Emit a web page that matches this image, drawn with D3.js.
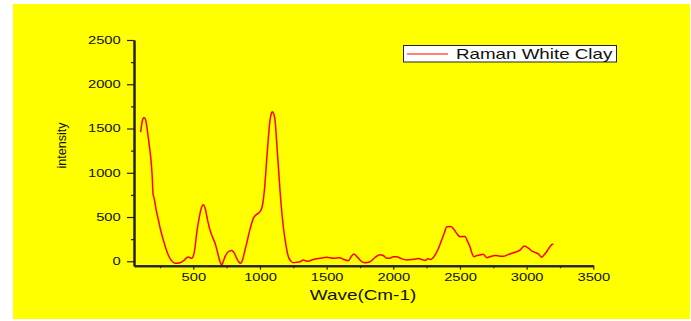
<!DOCTYPE html>
<html>
<head>
<meta charset="utf-8">
<script src="https://cdn.jsdelivr.net/npm/d3@7"></script>
<style>
  body { margin: 0; background: #fff; }
  text { font-family: 'Liberation Sans', Arial, sans-serif; fill: #111; }
</style>
</head>
<body>
<div id="chart"></div>
<script>
// Raman spectrum
const wave = [105, 118, 130, 142, 155, 168, 180, 190, 198, 205, 220, 238, 255, 275, 293, 312, 335, 363, 400, 430,
    450, 463, 478, 490, 500, 512, 525, 545, 562, 575, 590, 605, 625, 645, 663, 680, 695, 713, 725, 738,
    760, 788, 810, 825, 840, 855, 870, 885, 900, 925, 950, 975, 1000, 1015, 1025, 1040, 1050, 1062, 1075, 1085,
    1093, 1103, 1113, 1125, 1138, 1155, 1175, 1195, 1213, 1230, 1250, 1275, 1300, 1325, 1340, 1360, 1400, 1450, 1500, 1550,
    1600, 1625, 1663, 1685, 1705, 1725, 1750, 1770, 1788, 1825, 1860, 1900, 1925, 1950, 1975, 2000, 2025, 2060, 2100, 2150,
    2188, 2215, 2238, 2260, 2280, 2313, 2340, 2363, 2385, 2400, 2430, 2455, 2475, 2500, 2538, 2555, 2575, 2590, 2605, 2625,
    2645, 2675, 2700, 2730, 2763, 2800, 2825, 2860, 2888, 2920, 2950, 2983, 3013, 3040, 3063, 3090, 3113, 3130, 3150, 3175,
    3193, 3200];
const intensity = [1460, 1590, 1625, 1600, 1480, 1330, 1180, 1000, 760, 720, 590, 466, 350, 240, 150, 71, 10, -23, -16, 10,
    40, 48, 38, 34, 60, 150, 315, 500, 610, 638, 590, 480, 353, 270, 203, 110, 20, -42, 0, 52,
    105, 122, 85, 34, -5, -23, 20, 110, 203, 360, 485, 530, 560, 610, 691, 930, 1142, 1380, 1593, 1670,
    1690, 1665, 1593, 1350, 1066, 700, 390, 180, 52, 5, -16, -10, -5, 15, 5, 0, 20, 34, 45, 34,
    40, 23, 7, 55, 82, 55, 15, -10, -16, -5, 40, 75, 65, 34, 35, 52, 52, 30, 15, 22,
    30, 20, 10, 28, 20, 71, 150, 240, 330, 390, 392, 360, 315, 278, 280, 230, 165, 90, 52, 65,
    71, 80, 41, 55, 65, 58, 56, 75, 90, 105, 127, 172, 148, 115, 101, 80, 45, 70, 108, 165,
    192, 195];

const x_ticks = [500, 1000, 1500, 2000, 2500, 3000, 3500];
const x_minor = [250, 750, 1250, 1750, 2250, 2750, 3250];
const y_ticks = [0, 500, 1000, 1500, 2000, 2500];
const y_minor = [250, 750, 1250, 1750, 2250];
const series_name = 'Raman White Clay';

const data = wave.map((w, i) => [w, intensity[i]]);

const chart_width = 691;
const chart_height = 321;
const stretch = 1.4;

const svg = d3.select('#chart')
    .append('svg')
    .attr('width', chart_width)
    .attr('height', chart_height);

// yellow page
svg.append('rect')
    .attr('x', 13)
    .attr('y', 4)
    .attr('width', 677)
    .attr('height', 315)
    .attr('fill', '#ffff00');

const x_scale = d3.scaleLinear()
    .domain([55, 3500])
    .range([134, 593.3]);

const y_scale = d3.scaleLinear()
    .domain([-50, 2500])
    .range([265.7, 40]);

// Line
const line = d3.line()
    .x(d => x_scale(d[0]))
    .y(d => y_scale(d[1]))
    .curve(d3.curveMonotoneX);

svg.append('path')
    .datum(data)
    .attr('d', line)
    .attr('fill', 'none')
    .attr('stroke', '#ff0000')
    .attr('stroke-width', 1.5);

// Axes
const x_axis = d3.axisBottom(x_scale)
    .tickValues(x_ticks)
    .tickFormat(d3.format('d'))
    .tickSize(4)
    .tickSizeOuter(0)
    .tickPadding(4);

const x_g = svg.append('g')
    .attr('transform', `translate(0, ${y_scale(-50)})`)
    .call(x_axis);

svg.append('g')
    .attr('transform', `translate(0, ${y_scale(-50)})`)
    .call(d3.axisBottom(x_scale).tickValues(x_minor).tickSize(2.5).tickSizeOuter(0).tickFormat(''));

const y_axis = d3.axisLeft(y_scale)
    .tickValues(y_ticks)
    .tickFormat(d3.format('d'))
    .tickSize(7)
    .tickSizeOuter(0)
    .tickPadding(2.5);

const y_g = svg.append('g')
    .attr('transform', `translate(${x_scale(55)}, 0)`)
    .call(y_axis);

svg.append('g')
    .attr('transform', `translate(${x_scale(55)}, 0)`)
    .call(d3.axisLeft(y_scale).tickValues(y_minor).tickSize(3).tickSizeOuter(0).tickFormat(''));

svg.selectAll('.domain')
    .attr('stroke', '#222')
    .attr('stroke-width', 2);
svg.selectAll('.tick line')
    .attr('stroke', '#222')
    .attr('stroke-width', 1.2);

[x_g, y_g].forEach(g => g.selectAll('text')
    .attr('font-size', '10.5px')
    .attr('font-family', "'Liberation Sans', Arial, sans-serif")
    .attr('fill', '#111')
    .attr('transform', `scale(${stretch}, 1)`));

// Axis titles
svg.append('text')
    .attr('transform', `translate(363, 300) scale(1.35, 1)`)
    .attr('text-anchor', 'middle')
    .attr('font-size', '14px')
    .text('Wave(Cm-1)');

svg.append('text')
    .attr('transform', `translate(65.5, 145.5) rotate(-90)`)
    .attr('text-anchor', 'middle')
    .attr('font-size', '12.5px')
    .text('intensity');

// Legend
svg.append('rect')
    .attr('x', 403.5)
    .attr('y', 45.5)
    .attr('width', 213)
    .attr('height', 16.5)
    .attr('fill', '#fff')
    .attr('stroke', '#222')
    .attr('stroke-width', 1);

svg.append('line')
    .attr('x1', 407)
    .attr('x2', 448)
    .attr('y1', 54)
    .attr('y2', 54)
    .attr('stroke', '#ff0000')
    .attr('stroke-width', 1);

svg.append('text')
    .attr('transform', 'translate(456, 58.5) scale(1.34, 1)')
    .attr('font-size', '14px')
    .text(series_name);
</script>
</body>
</html>
